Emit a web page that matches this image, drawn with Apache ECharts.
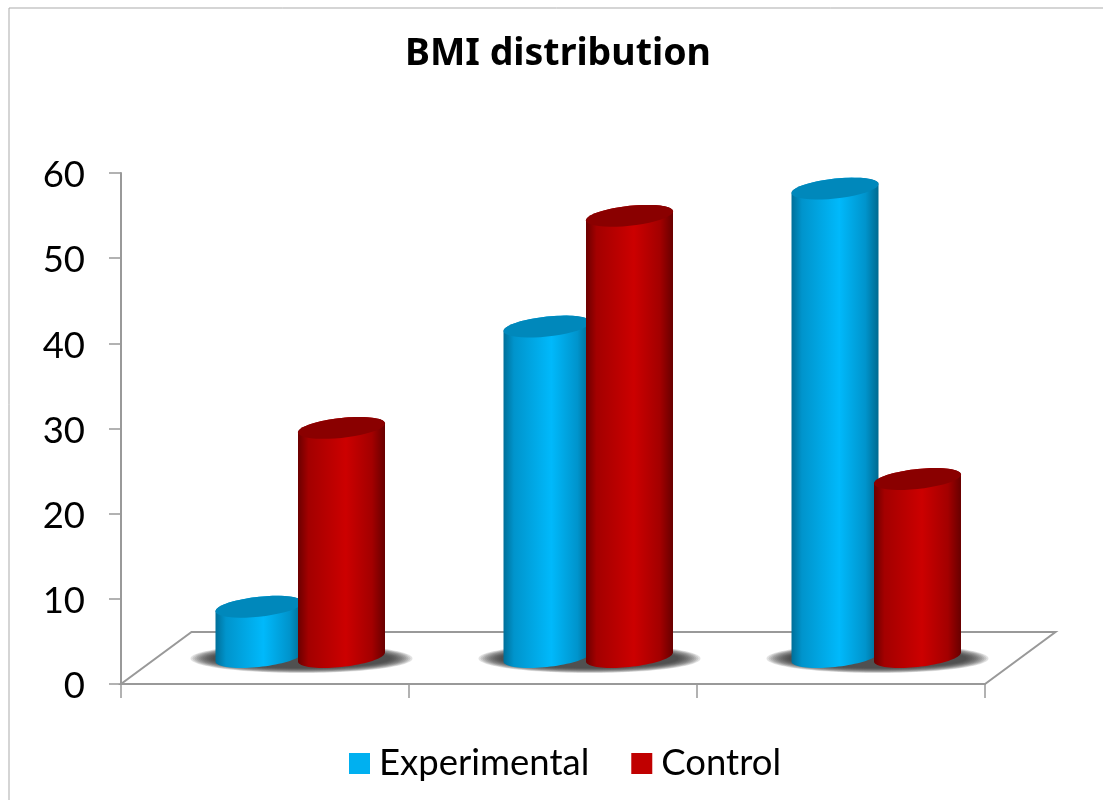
<!DOCTYPE html>
<html>

	<head>
		<meta charset="UTF-8">
		<title>BMI distribution</title>
		<script src="https://cdn.jsdelivr.net/npm/echarts@6/dist/echarts.min.js"></script>
		<style>
			html, body { margin: 0; padding: 0; background: #fff; overflow: hidden; }
			#main { width: 1103px; height: 800px; }
		</style>
	</head>

	<body>
		<div id="main"></div>
		<script type="text/javascript">
			var categories = ['Group 1', 'Group 2', 'Group 3'];
			var experimental = [5.9, 38.8, 55];
			var control = [26.9, 51.8, 20.9];
			var yTicks = [0, 60, 10];

			var chart = echarts.init(document.getElementById('main'));

			// floor depth in pixels, bars stand half way back
			var DEPTH_X = 70.5, DEPTH_Y = 52;
			var MID_X = 35.5, MID_Y = 27;
			var RX = 43.5, RY = 10, TILT = 4.5;

			function arc(cx, cy, from, to) {
				var pts = [];
				for (var i = 0; i <= 40; i++) {
					var t = from + (to - from) * i / 40;
					pts.push([cx + RX * Math.cos(t), cy + RY * Math.sin(t) - TILT * Math.cos(t)]);
				}
				return pts;
			}

			function bodyGradient(c) {
				return new echarts.graphic.LinearGradient(0, 0, 1, 0, [
					{ offset: 0, color: c[0] },
					{ offset: 0.12, color: c[1] },
					{ offset: 0.55, color: c[2] },
					{ offset: 0.85, color: c[1] },
					{ offset: 1, color: c[3] }
				]);
			}

			function cylinder(offset, colors, lid) {
				return function(params, api) {
					var top = api.coord([api.value(0), api.value(1)]);
					var base = api.coord([api.value(0), 0]);
					var cx = top[0] + MID_X + offset;
					var topY = top[1] - MID_Y;
					var baseY = base[1] - MID_Y;
					// front of the base from right to left, then the top edge back
					var body = arc(cx, baseY, 0, Math.PI).concat(arc(cx, topY, Math.PI, 2 * Math.PI));
					return {
						type: 'group',
						children: [{
							type: 'polygon',
							shape: { points: body },
							style: { fill: bodyGradient(colors) }
						}, {
							type: 'polygon',
							shape: { points: arc(cx, topY, 0, 2 * Math.PI) },
							style: { fill: lid }
						}]
					};
				};
			}

			function floorItem(params, api) {
				var a = api.coord([0, 0]);
				var size = api.size([1, 0]);
				var x0 = a[0] - size[0] / 2;
				var x1 = x0 + size[0] * categories.length;
				return {
					type: 'polygon',
					shape: { points: [[x0, a[1]], [x1, a[1]], [x1 + DEPTH_X, a[1] - DEPTH_Y], [x0 + DEPTH_X, a[1] - DEPTH_Y]] },
					style: { fill: '#fff', stroke: '#999', lineWidth: 2 }
				};
			}

			// soft shadow from stacked see-through ellipses
			function shadowItem(params, api) {
				var a = api.coord([api.value(0), 0]);
				var rings = [];
				for (var i = 0; i < 12; i++) {
					rings.push({
						type: 'ellipse',
						shape: { cx: a[0] + MID_X + 1, cy: a[1] - 25.5, rx: 111 - i * 2, ry: 14.5 - i * 0.45 },
						style: { fill: 'rgba(50,50,50,0.14)' }
					});
				}
				return { type: 'group', children: rings };
			}

			function pairs(values) {
				return values.map(function(v, i) { return [i, v]; });
			}

			chart.setOption({
				animation: false,
				color: ['#00b0f0', '#c00000'],
				title: {
					text: 'BMI distribution',
					left: 400,
					top: 30,
					textStyle: { fontFamily: 'Noto Sans', fontWeight: 'bold', fontSize: 37.5, color: '#000' }
				},
				legend: {
					data: ['Experimental', 'Control'],
					left: 344,
					top: 740,
					icon: 'rect',
					itemWidth: 21,
					itemHeight: 21,
					itemGap: 42,
					textStyle: { fontFamily: 'Lato', fontSize: 36.5, color: '#000', padding: [0, 0, 0, 4] }
				},
				grid: { left: 121, top: 173, width: 864, height: 511 },
				xAxis: {
					type: 'category',
					data: categories,
					axisLine: { lineStyle: { color: '#999', width: 2 } },
					axisTick: { show: true, length: 14, lineStyle: { color: '#999', width: 1.5 } },
					axisLabel: { show: false }
				},
				yAxis: {
					type: 'value',
					min: yTicks[0],
					max: yTicks[1],
					interval: yTicks[2],
					splitLine: { show: false },
					axisLine: { show: true, lineStyle: { color: '#999', width: 2 } },
					axisTick: { show: true, length: 12, lineStyle: { color: '#999', width: 1.5 } },
					axisLabel: {
						margin: 36,
						formatter: '{n|{value}}',
						rich: { n: { fontFamily: 'Lato', fontSize: 36.5, color: '#000', padding: [5, 0, 0, 0] } }
					}
				},
				graphic: [{
					type: 'rect',
					shape: { x: 9, y: 8, width: 1300, height: 1000 },
					style: { fill: 'none', stroke: '#ababab', lineWidth: 1 },
					silent: true
				}],
				series: [{
					name: 'floor',
					type: 'custom',
					z: 1,
					silent: true,
					renderItem: floorItem,
					data: [[0, 0]]
				}, {
					name: 'shadow',
					type: 'custom',
					z: 2,
					silent: true,
					renderItem: shadowItem,
					data: pairs(experimental)
				}, {
					name: 'Experimental',
					type: 'custom',
					z: 3,
					itemStyle: { color: '#00b0f0' },
					renderItem: cylinder(-41.5, ['#006f99', '#0094cc', '#00b9fb', '#006a90'], '#0088bb'),
					data: pairs(experimental)
				}, {
					name: 'Control',
					type: 'custom',
					z: 4,
					itemStyle: { color: '#c00000' },
					renderItem: cylinder(41, ['#6b0000', '#a30000', '#cc0000', '#680000'], '#8a0000'),
					data: pairs(control)
				}]
			});
		</script>
	</body>

</html>
